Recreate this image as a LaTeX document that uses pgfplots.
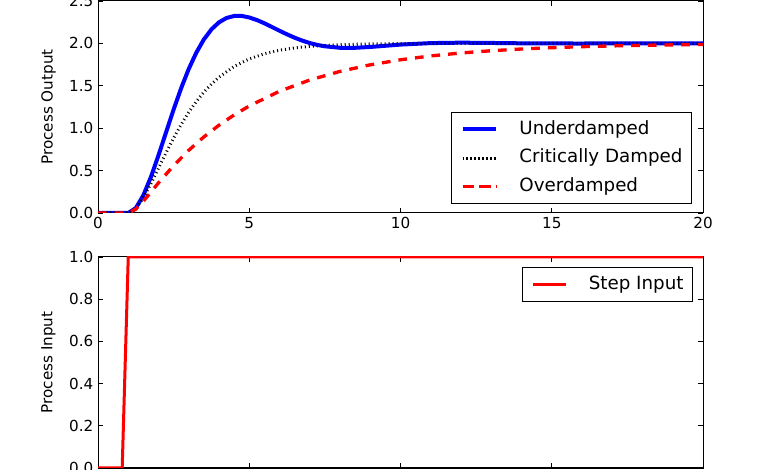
\documentclass[border=0pt]{standalone}
\usepackage{pgfplots}
\pgfplotsset{compat=1.18}
\usepackage{fontspec}
\setmainfont{DejaVu Sans}

\pgfplotstableread{
t y
0 0
1 0
1.25 0.0573
1.5 0.2088
1.75 0.4254
2 0.6806
2.25 0.9518
2.5 1.2209
2.75 1.4733
3 1.6989
3.25 1.8912
3.5 2.0470
3.75 2.1656
4 2.2487
4.25 2.2999
4.5 2.3234
4.75 2.3241
5 2.3057
5.25 2.2758
5.5 2.2370
5.75 2.1936
6 2.1491
6.25 2.1064
6.5 2.0672
6.75 2.0330
7 2.0045
7.25 1.9822
7.5 1.9657
8 1.9484
8.5 1.9482
9 1.9581
10 1.9859
11 2.0035
12 2.0086
13 2.0052
14 2.0010
15 1.9989
16 1.9987
17 1.9994
18 2.0
20 2.0
}\under

\pgfplotstableread{
t y
0 0
1 0
1.25 0.0530
1.5 0.1804
1.75 0.3467
2 0.5285
2.25 0.7107
2.5 0.8843
2.75 1.0443
3 1.1880
3.25 1.3149
3.5 1.4254
3.75 1.5205
4 1.6017
4.5 1.7282
5 1.8168
5.5 1.8778
6 1.9191
6.5 1.9469
7 1.9653
8 1.9854
9 1.9940
10 1.9975
11 1.9990
13 1.9999
20 2.0
}\crit

\pgfplotstableread{
t y
0 0
1 0
1.25 0.0458
1.5 0.1394
1.75 0.2470
2 0.3555
2.5 0.5590
3 0.7393
3.5 0.8973
4 1.0355
4.5 1.1565
5 1.2622
6 1.4356
7 1.5683
8 1.6697
9 1.7474
10 1.8067
11 1.8522
12 1.8869
13 1.9135
14 1.9338
15 1.9494
16 1.9613
17 1.9704
18 1.9773
19 1.9827
20 1.9867
}\over

\pgfplotstableread{
t u
0 0
0.8 0
1.0 1
20 1
}\step

\begin{document}
\begin{tikzpicture}
\useasboundingbox (0,0) rectangle (585pt,352.5pt);
\clip (0,0) rectangle (585pt,352.5pt);
\pgfplotsset{
  myaxis/.style={
    scale only axis, width=453.75pt,
    xmin=0, xmax=20, xtick={0,5,10,15,20},
    tick align=inside, tick pos=both, major tick length=3.5pt,
    axis line style={line width=0.75pt},
    tick style={black, line width=0.6pt},
    /pgf/number format/assume math mode=true,
    tick label style={font=\fontsize{11.4}{13}\selectfont},
    label style={font=\fontsize{11.4}{13}\selectfont},
    yticklabel style={/pgf/number format/.cd, fixed, fixed zerofill, precision=1},
    ylabel style={at={(axis description cs:-0.0818,0.5)}, anchor=center},
    legend cell align=left,
    legend image code/.code={\path (0pt,0pt) -- (25.25pt,0pt); \draw[##1] (2.25pt,0pt) -- (25.25pt,0pt);},
    legend style={draw=black, line width=0.75pt, font=\fontsize{13.7}{16}\selectfont,
      inner xsep=6.75pt, inner ysep=5.8pt, row sep=7.6pt,
      nodes={inner sep=0pt, text height=10.5pt, text depth=3.3pt},
      /tikz/every odd column/.append style={column sep=15.75pt}},
  }
}
\begin{axis}[myaxis, at={(73.5pt,192.75pt)}, anchor=south west, height=159pt,
  ymin=0, ymax=2.5, ytick={0,0.5,1,1.5,2,2.5},
  ylabel={Process Output},
  legend style={at={(rel axis cs:1,0)}, anchor=south east, xshift=-8.25pt, yshift=6.75pt}]
\addplot[blue, line width=3pt] table[x=t,y=y] {\under};
\addlegendentry{Underdamped}
\addplot[black, line width=2.25pt, dash pattern=on 0.75pt off 2.25pt] table[x=t,y=y] {\crit};
\addlegendentry{Critically Damped}
\addplot[red, line width=2.5pt, dash pattern=on 6.5pt off 6pt] table[x=t,y=y] {\over};
\addlegendentry{Overdamped}
\end{axis}
\begin{axis}[myaxis, at={(73.5pt,1.5pt)}, anchor=south west, height=158.25pt,
  ymin=0, ymax=1, ytick={0,0.2,0.4,0.6,0.8,1},
  ylabel={Process Input},
  legend style={at={(rel axis cs:1,1)}, anchor=north east, xshift=-7.5pt, yshift=-7.5pt}]
\addplot[red, line width=2.25pt] table[x=t,y=u] {\step};
\addlegendentry{Step Input}
\end{axis}
\end{tikzpicture}
\end{document}
